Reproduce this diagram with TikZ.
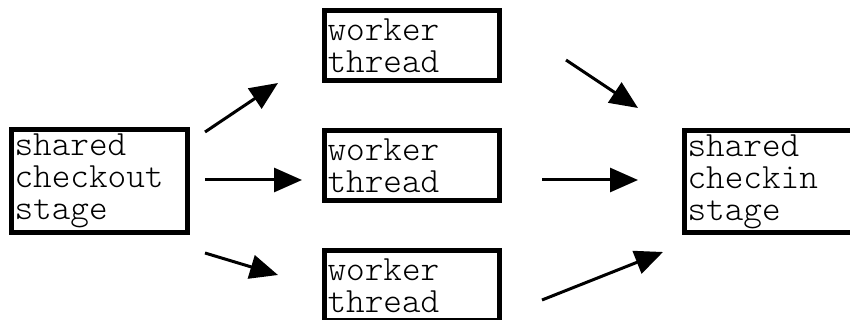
\documentclass[tikz,border=0pt]{standalone}
\usepackage{fontspec}
\setmonofont{Latin Modern Mono Light}
\usetikzlibrary{arrows.meta}
\begin{document}
\begin{tikzpicture}[x=1pt,y=-1pt,
  stagebox/.style={draw, line width=5pt, inner xsep=3pt, inner ysep=0pt, align=left,
    font=\ttfamily\fontsize{35.5}{32}\selectfont},
  flow/.style={line width=3pt, -{Triangle[length=28pt,width=24pt]}}]
\useasboundingbox (0,0) rectangle (850,320);
\node[stagebox, minimum width=176pt, minimum height=102pt, text width=170pt] (checkout) at (99.5,181) {shared\\checkout\\stage};
\node[stagebox, minimum width=175pt, minimum height=70pt, text width=169pt] (w1) at (412,45.5) {worker\\thread};
\node[stagebox, minimum width=175pt, minimum height=70pt, text width=169pt] (w2) at (412,165.5) {worker\\thread};
\node[stagebox, minimum width=175pt, minimum height=70pt, text width=169pt] (w3) at (412,285.5) {worker\\thread};
\node[stagebox, minimum width=183pt, minimum height=102pt, text width=177pt] (checkin) at (776,181.5) {shared\\checkin\\stage};
\coordinate (a1s) at (205,132); \coordinate (a1e) at (278,83);
\coordinate (a2s) at (205,180); \coordinate (a2e) at (302,180);
\coordinate (a3s) at (205,253); \coordinate (a3e) at (278,275);
\coordinate (b1s) at (566,60);  \coordinate (b1e) at (638,108);
\coordinate (b2s) at (542,180); \coordinate (b2e) at (638,180);
\coordinate (b3s) at (542,300); \coordinate (b3e) at (663,252);
\draw[flow] (a1s) -- (a1e);
\draw[flow] (a2s) -- (a2e);
\draw[flow] (a3s) -- (a3e);
\draw[flow] (b1s) -- (b1e);
\draw[flow] (b2s) -- (b2e);
\draw[flow] (b3s) -- (b3e);
\end{tikzpicture}
\end{document}
